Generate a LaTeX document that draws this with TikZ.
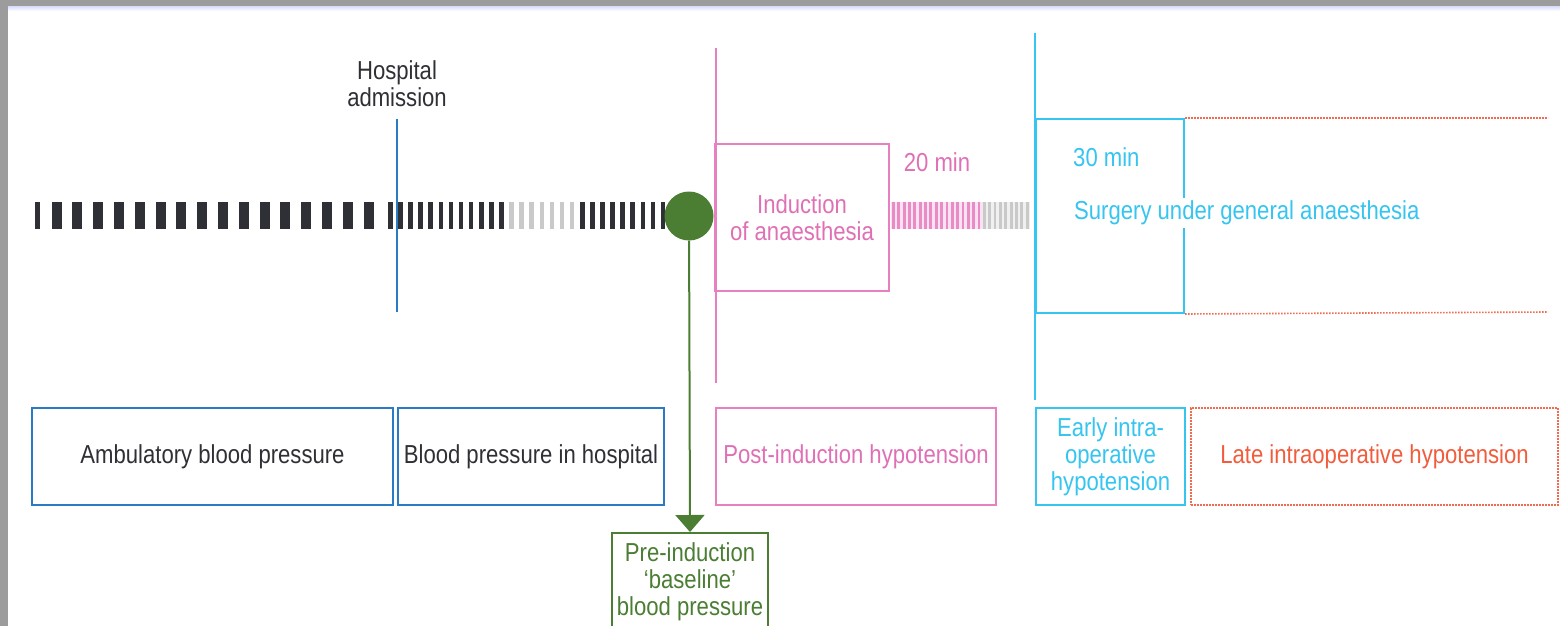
\documentclass[tikz,border=0pt]{standalone}
\usepackage{fontspec}
\setmainfont[FakeStretch=0.85]{Liberation Sans}
\usetikzlibrary{arrows.meta}
\definecolor{ink}{HTML}{2E3035}
\definecolor{framegray}{HTML}{9C9C9C}
\definecolor{lightbar}{HTML}{C9C9C9}
\definecolor{bpblue}{HTML}{2B7BC4}
\definecolor{bppink}{HTML}{E77FC0}
\definecolor{pinktext}{HTML}{E070B5}
\definecolor{pinkbar}{HTML}{E98CC6}
\definecolor{bpcyan}{HTML}{35C5F0}
\definecolor{bporange}{HTML}{F26A4F}
\definecolor{orangetext}{HTML}{F25C3C}
\definecolor{bpgreen}{HTML}{4B7D33}
\begin{document}
\begin{tikzpicture}[x=1pt,y=-1pt,
  font=\fontsize{26}{27}\selectfont,
  marker/.style={line width=2pt},
  phasebox/.style={draw, line width=2pt, minimum height=97pt, inner sep=2pt, align=center},
  lbl/.style={inner sep=2pt, align=center}]
\path[clip] (0,0) rectangle (1560,626);
\fill[white] (0,0) rectangle (1560,626);
% frame
\fill[framegray] (0,0) rectangle (1560,7);
\fill[framegray] (0,0) rectangle (8,626);
\shade[top color=blue!12!white, bottom color=white] (8,7) rectangle (1560,11);

% timeline bars
\fill[ink] (35,202) rectangle (40,229);
\foreach \i in {0,...,15} \fill[ink] ({51.5+20.8*\i},202) rectangle ++(10,27);
\foreach \i in {0,...,11} \fill[ink] ({388+10.1*\i},202) rectangle ++(4.6,27);
\foreach \i in {12,...,18} \fill[lightbar] ({388+10.1*\i},202) rectangle ++(4.6,27);
\foreach \i in {19,...,28} \fill[ink] ({388+10.1*\i},202) rectangle ++(4.6,27);
\fill[pinkbar!25] (891,202) rectangle (984,229);
\fill[black!6] (984,202) rectangle (1030,229);
\foreach \i in {0,...,16} \fill[pinkbar] ({892+5.35*\i},202) rectangle ++(2.8,27);
\foreach \i in {17,...,25} \fill[lightbar] ({892+5.35*\i},202) rectangle ++(2.8,27);

% hospital admission
\coordinate (admtop) at (397,119);
\coordinate (admbot) at (397,312);
\draw[marker, bpblue] (admtop) -- (admbot);
\node[lbl, text=ink] (adm) at (397,84) {Hospital\\admission};

% induction
\coordinate (indtop) at (715.5,48);
\coordinate (indbot) at (715.5,383);
\draw[marker, bppink] (indtop) -- (indbot);
\node[draw=bppink, line width=2pt, minimum width=174pt, minimum height=147pt,
      text=pinktext, lbl] (ind) at (802,217.5) {Induction\\of anaesthesia};
\node[lbl, text=pinktext] (twenty) at (937,162) {20 min};

% surgery
\coordinate (surgtop) at (1035,33);
\coordinate (surgbot) at (1035,400);
\draw[marker, bpcyan] (surgtop) -- (surgbot);
\node[draw=bpcyan, line width=2pt, minimum width=148pt, minimum height=194pt,
      anchor=north west, inner sep=0pt] (surgbox) at (1035,118) {};
\node[lbl, text=bpcyan, anchor=west] (thirty) at (1071,157) {30 min};
\node[lbl, fill=white, text=bpcyan, anchor=west, inner sep=3pt] (surg) at (1071,213) {Surgery under general anaesthesia};
\coordinate (lateTop) at (1548,118);
\coordinate (lateBot) at (1548,312);
\draw[bporange, line width=1.6pt, dash pattern=on 1.6pt off 1.4pt] (surgbox.north east) -- (lateTop);
\draw[bporange, line width=1.6pt, dash pattern=on 1.6pt off 1.4pt] (surgbox.south east) -- (lateBot);

% baseline
\node[circle, fill=bpgreen, minimum size=49pt, inner sep=0pt] (bl) at (689,216) {};
\node[draw=bpgreen, line width=1.6pt, minimum width=156pt, minimum height=97pt,
      text=bpgreen, lbl, anchor=north] (base) at (690,532) {Pre-induction\\‘baseline’\\blood pressure};
\draw[bpgreen, line width=2pt, -{Triangle[width=29pt,length=17pt]}] (bl) -- (base.north);

% phase boxes
\node[phasebox, draw=bpblue, text=ink, minimum width=361pt] (amb) at (212.5,456.5) {Ambulatory blood pressure};
\node[phasebox, draw=bpblue, text=ink, minimum width=266pt] (hosp) at (531,456.5) {Blood pressure in hospital};
\node[phasebox, draw=bppink, text=pinktext, minimum width=280pt] (post) at (856,456.5) {Post-induction hypotension};
\node[phasebox, draw=bpcyan, text=bpcyan, minimum width=149pt] (early) at (1110.5,456.5) {Early intra-\\operative\\hypotension};
\node[phasebox, draw=bporange, dash pattern=on 1.6pt off 1.4pt, line width=1.6pt, text=orangetext, minimum width=367pt] (late) at (1374.5,456.5) {Late intraoperative hypotension};
\end{tikzpicture}
\end{document}
